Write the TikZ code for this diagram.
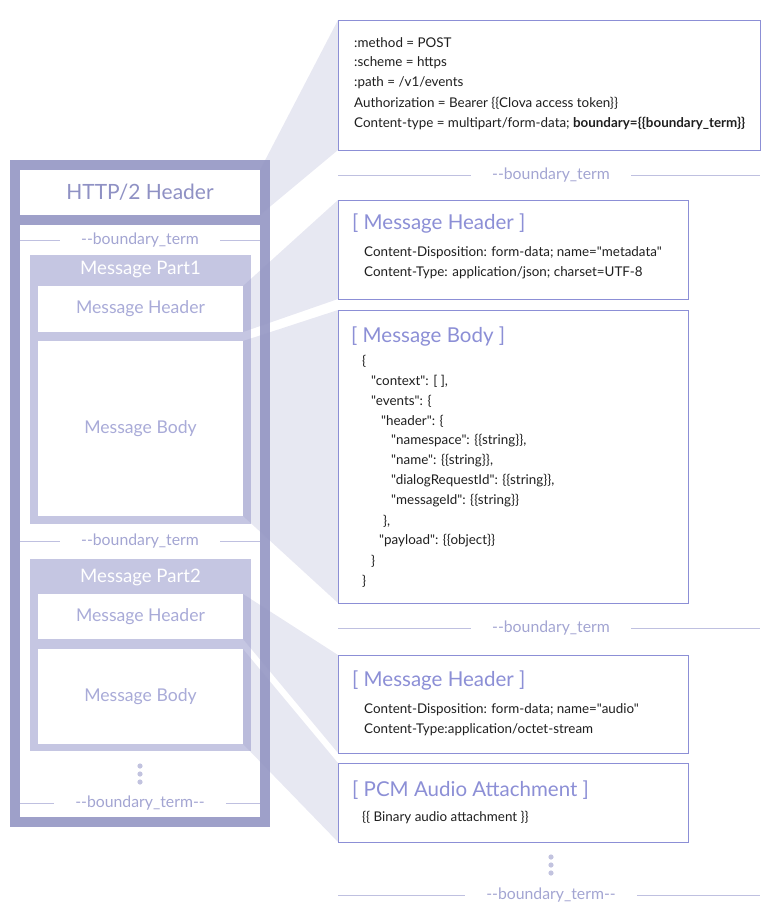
\documentclass[tikz,border=0pt]{standalone}
\usepackage{fontspec}
\setmainfont{Lato}[Ligatures=TeXOff]
\definecolor{framec}{HTML}{9EA0C9}
\definecolor{partc}{HTML}{C5C6E2}
\definecolor{lblc}{HTML}{A9ABD8}
\definecolor{hdrc}{HTML}{8F91C4}
\definecolor{bdc}{HTML}{BFC0E0}
\definecolor{bdtxt}{HTML}{A3A5D2}
\definecolor{boxc}{HTML}{8C8FD6}
\definecolor{projc}{HTML}{9496C4}
\definecolor{dotc}{HTML}{C2C3DF}
\newcommand{\dd}{\mbox{-}\mbox{-}}
\begin{document}
\begin{tikzpicture}[x=1pt, y=-1pt,
	box/.style={inner sep=0pt, outer sep=0pt, anchor=north west},
	wbox/.style={box, fill=white, text=lblc, font=\fontsize{17.6}{20}\selectfont},
	rbox/.style={box, draw=boxc, line width=1pt, fill=white},
	proj/.style={fill=projc, fill opacity=.22},
	bline/.style={draw=bdc, line width=1pt},
	btext/.style={text=bdtxt, font=\fontsize{15.8}{18}\selectfont, inner xsep=21pt, inner ysep=0pt},
	ptitle/.style={text=white, font=\fontsize{18.6}{20}\selectfont, inner sep=0pt},
	ttl/.style={anchor=west, inner sep=0pt, text=boxc, font=\fontsize{20.5}{22}\selectfont},
	txt/.style={anchor=west, inner sep=0pt, text=black!88, font=\fontsize{13.4}{15}\selectfont}]
	\useasboundingbox (0,0) rectangle (770,924);
	
	% right side boxes
	\node[rbox, minimum width=422, minimum height=130] (reqhdr) at (338,20) {};
	\node[rbox, minimum width=350, minimum height=99] (mhdr1) at (338,200) {};
	\node[rbox, minimum width=350, minimum height=293] (mbody1) at (338,310) {};
	\node[rbox, minimum width=350, minimum height=98] (mhdr2) at (338,655) {};
	\node[rbox, minimum width=350, minimum height=79] (pcm) at (338,763) {};
	
	% left side: message frame
	\node[box, draw=framec, line width=10pt, minimum width=250, minimum height=657] (msgframe) at (15,165) {};
	\node[box, fill=white, text=hdrc, font=\fontsize{21}{24}\selectfont, minimum width=240, minimum height=45] (httphdr) at (20,170) {HTTP/2 Header};
	\fill[framec] (httphdr.south west) rectangle ++(240,10);
	
	\node[box, fill=partc, minimum width=221, minimum height=269] (part1) at (30,255) {};
	\node[ptitle] (part1ttl) at (140.5,270) {Message Part1};
	\node[wbox, minimum width=205, minimum height=46] (hdr1) at (38,286) {Message Header};
	\node[wbox, minimum width=205, minimum height=175] (body1) at (38,341) {Message Body};
	
	\node[box, fill=partc, minimum width=221, minimum height=192] (part2) at (30,559) {};
	\node[ptitle] (part2ttl) at (140.5,577) {Message Part2};
	\node[wbox, minimum width=205, minimum height=45] (hdr2) at (38,594) {Message Header};
	\node[wbox, minimum width=205, minimum height=95] (body2) at (38,649) {Message Body};
	
	\node[btext] (lbd1) at (140,240) {\dd boundary\_term};
	\node[btext] (lbd2) at (140,541) {\dd boundary\_term};
	\node[btext] (lbd3) at (140,803) {\dd boundary\_term\dd};
	\foreach \n in {lbd1,lbd2,lbd3}
	\draw[bline] (httphdr.west |- \n) -- (\n.west) (\n.east) -- (httphdr.east |- \n);
	\foreach \y in {766,774,782} \fill[dotc] (140,\y) circle (2.6);
	
	% projections
	\fill[proj] (httphdr.north east) -- (reqhdr.north west) -- (reqhdr.south west) -- (httphdr.south east) -- cycle;
	\fill[proj] (hdr1.north east) -- (mhdr1.north west) -- (mhdr1.south west) -- (hdr1.south east) -- cycle;
	\fill[proj] (body1.north east) -- (mbody1.north west) -- (mbody1.south west) -- (body1.south east) -- cycle;
	\fill[proj] (hdr2.north east) -- (mhdr2.north west) -- (mhdr2.south west) -- (hdr2.south east) -- cycle;
	\fill[proj] (body2.north east) -- (pcm.north west) -- (pcm.south west) -- (body2.south east) -- cycle;
	
	% right side boundaries
	\node[btext] (rbd1) at (551,175) {\dd boundary\_term};
	\node[btext] (rbd2) at (551,628) {\dd boundary\_term};
	\node[btext] (rbd3) at (551,895) {\dd boundary\_term\dd};
	\foreach \n in {rbd1,rbd2,rbd3}
	\draw[bline] (reqhdr.west |- \n) -- (\n.west) (\n.east) -- (reqhdr.east |- \n);
	\foreach \y in {857,865,873} \fill[dotc] (551,\y) circle (2.6);
	
	% texts
	\foreach \t [count=\i] in {{:method = POST}, {:scheme = https}, {:path = /v1/events},
		{Authorization = Bearer \{\{Clova access token\}\}},
		{Content-type = multipart/form-data; \textbf{boundary=\{\{boundary\_term\}\}}}}
	\node[txt] (req\i) at (354,23+20*\i) {\t};
	
	\node[ttl] (mhdr1ttl) at (352,224) {[ Message Header ]};
	\node[txt] (mhdr1a) at (364,253) {Content-Disposition: form-data; name="metadata"};
	\node[txt] (mhdr1b) at (364,273) {Content-Type: application/json; charset=UTF-8};
	
	\node[ttl] (mbody1ttl) at (351,337) {[ Message Body ]};
	\foreach \x/\t [count=\i] in {362/\{, 371/{"context": [ ],}, 371/{"events": \{}, 381/{"header": \{},
		391/{"namespace": \{\{string\}\},}, 391/{"name": \{\{string\}\},},
		391/{"dialogRequestId": \{\{string\}\},}, 391/{"messageId": \{\{string\}\}},
		383/{\},}, 379/{"payload": \{\{object\}\}}, 371/\}, 362/\}}
	\node[txt] (json\i) at (\x,341+20*\i) {\t};
	
	\node[ttl] (mhdr2ttl) at (352,681) {[ Message Header ]};
	\node[txt] (mhdr2a) at (364,710) {Content-Disposition: form-data; name="audio"};
	\node[txt] (mhdr2b) at (364,730) {Content-Type:application/octet-stream};
	
	\node[ttl] (pcmttl) at (352,790) {[ PCM Audio Attachment ]};
	\node[txt] (pcma) at (362,818) {\{\{ Binary audio attachment \}\}};
	
\end{tikzpicture}
\end{document}
